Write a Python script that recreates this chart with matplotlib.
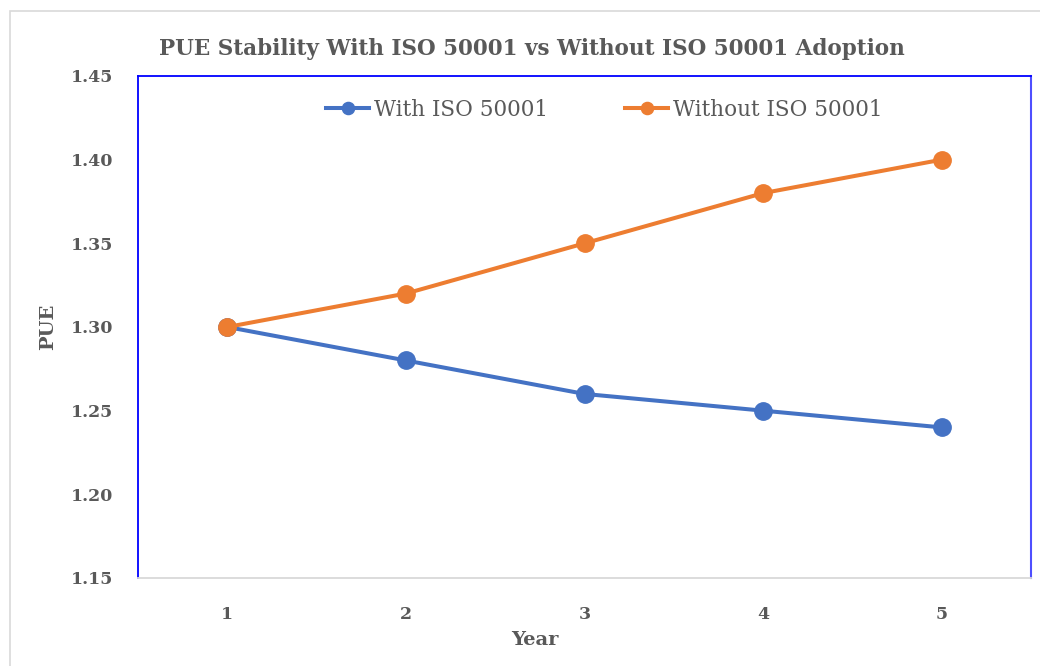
import matplotlib
matplotlib.use("Agg")
import matplotlib.pyplot as plt
from matplotlib.patches import Rectangle

years = [1, 2, 3, 4, 5]
with_iso = [1.30, 1.28, 1.26, 1.25, 1.24]
without_iso = [1.30, 1.32, 1.35, 1.38, 1.40]
y_ticks = [1.15, 1.20, 1.25, 1.30, 1.35, 1.40, 1.45]
series_names = ["With ISO 50001", "Without ISO 50001"]

FONT = "DejaVu Serif"
TXT = "#595959"

fig = plt.figure(figsize=(10.4, 6.66), dpi=100)
fig.patch.set_facecolor("white")
fig.patches.append(Rectangle((10/1040, -0.1), 1.2, 1 - 11/666 + 0.1, transform=fig.transFigure,
                             fill=False, edgecolor="#d9d9d9", linewidth=1.2, zorder=0))

ax = fig.add_axes([138/1040, 1 - 578/666, (1031-138)/1040, (578-76)/666])
ax.plot(years, with_iso, color="#4472C4", lw=2.9, marker="o", ms=12.5, label=series_names[0], clip_on=False)
ax.plot(years, without_iso, color="#ED7D31", lw=2.9, marker="o", ms=12.5, label=series_names[1], clip_on=False)

ax.set_xlim(0.5, 5.5)
ax.set_ylim(1.15, 1.45)
ax.set_xticks(years)
ax.set_xticklabels([str(y) for y in years])
ax.set_yticks(y_ticks)
ax.set_yticklabels([f"{v:.2f}" for v in y_ticks])
ax.tick_params(length=0, labelsize=12.5, labelcolor=TXT)
ax.tick_params(axis="x", pad=20)
ax.tick_params(axis="y", pad=18)
for lab in ax.get_xticklabels() + ax.get_yticklabels():
    lab.set_fontfamily(FONT)
    lab.set_fontweight("bold")

for s in ["left", "top"]:
    ax.spines[s].set_color("#0000ff")
    ax.spines[s].set_linewidth(1.3)
ax.spines["right"].set_color("#4f4fff")
ax.spines["right"].set_linewidth(1.5)
ax.spines["bottom"].set_color("#d9d9d9")
ax.spines["bottom"].set_linewidth(1.3)

ax.set_xlabel("Year", fontfamily=FONT, fontweight="bold", fontsize=14, color=TXT)
ax.xaxis.set_label_coords((535-138)/893, -(631-578)/502)
ax.set_ylabel("PUE", fontfamily=FONT, fontweight="bold", fontsize=14, color=TXT)
ax.yaxis.set_label_coords((57-138)/893, 0.5)

fig.text(532/1040, 1 - 49/666, "PUE Stability With ISO 50001 vs Without ISO 50001 Adoption",
         ha="center", va="center", fontfamily=FONT, fontweight="bold", fontsize=15.5, color=TXT)

leg = ax.legend(loc="upper center", bbox_to_anchor=(0.522, 0.993), ncol=2, frameon=False,
                prop={"family": FONT, "size": 15.5}, handlelength=2.0, handletextpad=0.2,
                columnspacing=3.6, markerscale=0.7)
for t in leg.get_texts():
    t.set_color(TXT)

fig.savefig("out.png", dpi=100, facecolor="white")
